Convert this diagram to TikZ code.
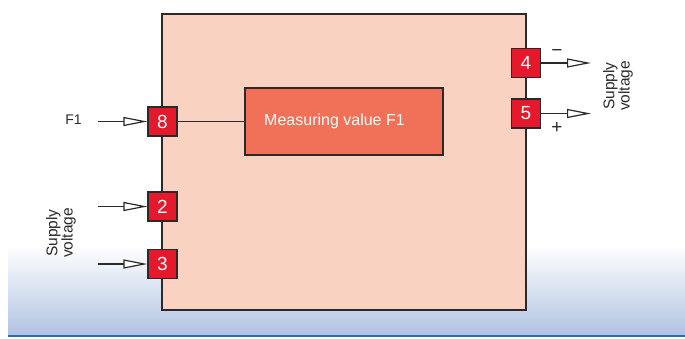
\documentclass[tikz,border=0pt]{standalone}
\usepackage{fontspec}
\setmainfont{Liberation Sans}
\usetikzlibrary{arrows.meta}
\definecolor{boxfill}{HTML}{F9D2C2}
\definecolor{measfill}{HTML}{F07058}
\definecolor{termred}{HTML}{E5192B}
\definecolor{edge}{HTML}{2A2A2A}
\definecolor{bgblue}{HTML}{B2C4E3}
\definecolor{lineblue}{HTML}{2A6DB3}
\tikzset{
  term/.style={draw=edge, line width=1.1pt, fill=termred, minimum size=29pt, inner sep=0pt, text=white, font=\fontsize{19}{19}\selectfont},
  sig/.style={draw=edge, line width=1.2pt, -{Triangle[open, length=24pt, width=9pt, fill=white]}},
  lbl/.style={font=\fontsize{14}{14}\selectfont, text=edge},
  pm/.style={font=\fontsize{19}{19}\selectfont, text=edge},
  vlbl/.style={font=\fontsize{15.5}{14}\selectfont, text=edge, align=center, rotate=90}
}
\begin{document}
\begin{tikzpicture}[x=1pt,y=-1pt]
\useasboundingbox (0,0) rectangle (685,338);
% background gradient
\fill[top color=white, bottom color=bgblue] (8,246) rectangle (685,334);
\draw[lineblue, line width=2pt] (8,336) -- (685,336);
% main box
\node[draw=edge, line width=1.5pt, fill=boxfill, minimum width=364pt, minimum height=296pt, inner sep=0pt] (main) at (344,162) {};
% measuring box
\node[draw=edge, line width=1.2pt, fill=measfill, minimum width=198pt, minimum height=67pt, inner sep=0pt] (meas) at (344,121.5) {};
\node[text=white, font=\fontsize{16}{16}\selectfont, inner sep=0pt] (meastext) at (334.5,121) {Measuring value F1};
% terminals
\node[term] (t8) at (162.5,121.5) {8};
\node[term] (t2) at (162.5,206.5) {2};
\node[term] (t3) at (162.5,264) {3};
\node[term] (t4) at (526,63) {4};
\node[term] (t5) at (526,113.5) {5};
\draw[edge, line width=1.2pt] (t8) -- (meas);
% input arrows
\coordinate (i8) at (98,121.5);
\coordinate (i2) at (98,206.5);
\coordinate (i3) at (98,264);
\draw[sig] (i8) -- (t8);
\draw[sig] (i2) -- (t2);
\draw[sig] (i3) -- (t3);
% output arrows
\coordinate (o4) at (591,63);
\coordinate (o5) at (591,113.5);
\draw[sig] (t4) -- (o4);
\draw[sig] (t5) -- (o5);
% labels
\node[lbl] (f1) at (73.5,119.5) {F1};
\node[vlbl] (svl) at (61,233) {Supply\\voltage};
\node[vlbl] (svr) at (618,86) {Supply\\voltage};
\node[pm] (minus) at (557,53) {\textminus};
\node[pm] (plus) at (557,128) {+};
\end{tikzpicture}
\end{document}
